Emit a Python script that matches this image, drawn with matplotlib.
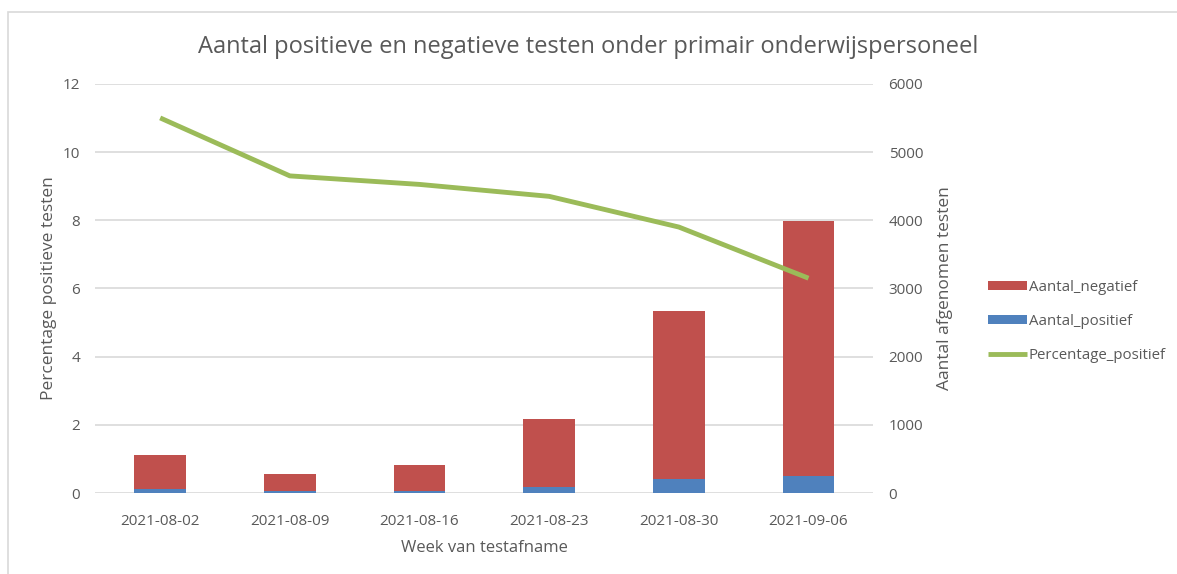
import matplotlib.pyplot as plt
from matplotlib.patches import Rectangle

weeks = ["2021-08-02", "2021-08-09", "2021-08-16", "2021-08-23", "2021-08-30", "2021-09-06"]
aantal_positief = [61, 25, 37, 95, 209, 251]
aantal_negatief = [495, 249, 373, 992, 2465, 3739]
percentage_positief = [11.0, 9.3, 9.05, 8.7, 7.8, 6.3]

plt.rcParams['font.family'] = ['Open Sans', 'DejaVu Sans']
grey = '#595959'

fig = plt.figure(figsize=(11.77, 5.74), dpi=100)
fig.patches.append(Rectangle((0.007, -0.1), 1.1, 1.079, transform=fig.transFigure,
                             fill=False, edgecolor='#d9d9d9', linewidth=1.2))

ax = fig.add_axes([0.081, 0.141, 0.661, 0.713])
ax2 = ax.twinx()

x = range(len(weeks))
ax2.bar(x, aantal_positief, width=0.4, color='#4f81bd', label='Aantal_positief', zorder=2)
ax2.bar(x, aantal_negatief, width=0.4, bottom=aantal_positief, color='#c0504d',
        label='Aantal_negatief', zorder=2)
ax.plot(x, percentage_positief, color='#9bbb59', linewidth=3.5, label='Percentage_positief',
        solid_capstyle='butt')

ax.set_zorder(ax2.get_zorder() + 1)
ax.patch.set_visible(False)

ax.set_ylim(0, 12)
ax.set_yticks(range(0, 13, 2))
ax2.set_ylim(0, 6000)
ax2.set_yticks(range(0, 6001, 1000))
ax.set_xlim(-0.5, 5.5)
ax.set_xticks(list(x))
ax.set_xticklabels(weeks)

ax2.grid(axis='y', color='#d9d9d9', linewidth=1.2, zorder=0)
ax2.set_axisbelow(True)

for a in (ax, ax2):
    for s in a.spines.values():
        s.set_visible(False)
    a.tick_params(length=0, colors=grey, labelsize=11)
ax.tick_params(axis='y', pad=11)
ax.tick_params(axis='x', pad=15)
ax2.tick_params(axis='y', pad=11)

ax.set_ylabel('Percentage positieve testen', color=grey, fontsize=12.5, labelpad=4)
ax2.set_ylabel('Aantal afgenomen testen', color=grey, fontsize=12.5, labelpad=10)
ax.set_xlabel('Week van testafname', color=grey, fontsize=12, labelpad=8)

fig.text(0.5, 0.918, 'Aantal positieve en negatieve testen onder primair onderwijspersoneel',
         ha='center', va='center', color=grey, fontsize=17)

h1, l1 = ax2.get_legend_handles_labels()
h2, l2 = ax.get_legend_handles_labels()
handles = [h1[1], h1[0], h2[0]]
labels = [l1[1], l1[0], l2[0]]
fig.legend(handles, labels, loc='center left', bbox_to_anchor=(0.828, 0.44), frameon=False,
           fontsize=10.8, labelcolor=grey, handlelength=2.6, handleheight=0.55,
           handletextpad=0.1, labelspacing=1.25)

fig.savefig('out.png', dpi=100)
